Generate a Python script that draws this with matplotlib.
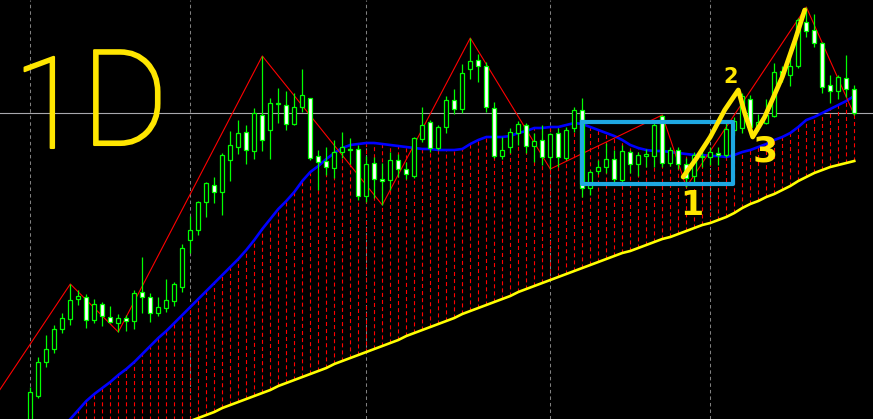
import matplotlib
matplotlib.use('Agg')
import matplotlib.pyplot as plt
import matplotlib.patheffects as pe
import numpy as np

# Daily bars, price (no price scale shown, arbitrary points)
opens = [60, 104, 138, 151, 171, 181, 201, 203, 180, 196,
         183, 177, 182, 179, 208, 203, 187, 192, 199, 213,
         260, 270, 298, 315, 308, 340, 353, 368, 349, 385,
         370, 396, 395, 376, 393, 402, 344, 339, 332, 348,
         351, 351, 304, 337, 321, 320, 340, 331, 324, 361,
         378, 352, 373, 400, 391, 431, 440, 434, 392, 344,
         353, 367, 375, 354, 360, 343, 367, 342, 372, 390,
         312, 329, 333, 341, 320, 348, 336, 344, 344, 384,
         337, 350, 336, 324, 343, 343, 347, 345, 370, 372,
         401, 373, 377, 384, 429, 425, 434, 478, 470, 457,
         415, 409, 422, 411]
highs = [113, 143, 165, 175, 187, 216, 210, 206, 201, 198,
         194, 186, 185, 210, 243, 207, 203, 221, 218, 256,
         284, 299, 318, 323, 347, 369, 380, 375, 392, 444,
         402, 412, 409, 407, 431, 402, 350, 353, 360, 368,
         362, 355, 344, 343, 337, 348, 346, 338, 363, 393,
         380, 375, 404, 411, 436, 462, 446, 438, 398, 363,
         372, 379, 377, 367, 375, 367, 372, 373, 393, 402,
         330, 340, 357, 350, 355, 350, 348, 351, 380, 385,
         353, 353, 342, 348, 350, 353, 353, 377, 383, 407,
         405, 386, 401, 437, 434, 452, 482, 493, 486, 458,
         425, 425, 445, 415]
lows = [55, 102, 133, 147, 167, 175, 195, 172, 177, 174,
        177, 168, 169, 171, 187, 178, 184, 188, 194, 208,
        247, 265, 283, 297, 285, 319, 346, 336, 341, 349,
        341, 377, 370, 375, 388, 340, 310, 325, 322, 342,
        336, 300, 298, 302, 295, 310, 323, 321, 322, 358,
        348, 350, 367, 386, 387, 421, 418, 388, 342, 341,
        347, 355, 347, 338, 335, 331, 333, 340, 368, 303,
        305, 326, 327, 318, 318, 327, 324, 333, 333, 333,
        334, 331, 313, 318, 333, 335, 335, 343, 365, 367,
        371, 369, 376, 383, 418, 414, 432, 463, 453, 407,
        397, 401, 403, 385]
closes = [108, 138, 151, 171, 182, 200, 204, 180, 196, 184,
          178, 182, 179, 207, 203, 187, 193, 200, 216, 252,
          270, 298, 317, 308, 345, 355, 367, 350, 387, 360,
          397, 397, 376, 393, 405, 342, 338, 333, 348, 353,
          350, 304, 336, 321, 319, 340, 331, 326, 362, 375,
          352, 373, 400, 391, 427, 439, 434, 393, 344, 350,
          368, 376, 354, 359, 343, 366, 343, 370, 390, 312,
          328, 333, 341, 321, 349, 336, 345, 346, 375, 337,
          350, 336, 322, 345, 344, 348, 345, 371, 379, 404,
          373, 378, 385, 428, 425, 434, 480, 469, 457, 413,
          409, 423, 411, 387]

# blue (fast) and yellow (slow) moving averages
ma_fast = [35, 44, 53, 63, 72, 81, 90, 99, 106, 112,
           118, 125, 131, 138, 146, 154, 162, 169, 177, 185,
           193, 201, 209, 217, 225, 233, 241, 250, 260, 271,
           281, 291, 299, 308, 319, 328, 334, 341, 347, 352,
           355, 356, 357, 357, 356, 355, 354, 353, 352, 351,
           351, 350, 350, 350, 351, 356, 360, 363, 363, 363,
           364, 367, 369, 372, 372, 373, 373, 375, 377, 376,
           373, 370, 367, 364, 360, 355, 352, 350, 349, 349,
           348, 347, 346, 345, 345, 344, 344, 343, 345, 348,
           350, 353, 356, 360, 363, 367, 373, 380, 383, 387,
           391, 395, 399, 404]
ma_slow = [16, 19, 22, 25, 28, 31, 34, 38, 41, 44,
           47, 51, 54, 57, 60, 63, 66, 70, 73, 76,
           79, 82, 85, 88, 92, 95, 98, 101, 104, 107,
           110, 114, 117, 120, 123, 126, 129, 132, 136, 139,
           142, 145, 148, 151, 154, 157, 160, 164, 167, 170,
           173, 176, 179, 182, 186, 189, 192, 195, 198, 201,
           204, 208, 211, 214, 217, 220, 223, 226, 229, 232,
           235, 238, 241, 244, 247, 249, 252, 255, 258, 261,
           263, 266, 269, 272, 275, 277, 280, 283, 287, 292,
           296, 299, 303, 306, 310, 314, 319, 323, 327, 330,
           333, 335, 337, 339]

# zigzag pivots (bar index, price); first one lies left of the visible window
zz_idx = [-4, 5, 11, 29, 44, 55, 65, 79, 82, 97, 103]
zz_val = [108, 216, 168, 444, 295, 462, 331, 385, 313, 493, 385]

# period separators
sep_idx = [0, 20, 42, 65, 85]

# hand drawn markup (bar index, price)
box_x = [68.96, 87.84, 87.84, 68.96, 68.96]
box_y = [378, 378, 316, 316, 378]
wave_x = [81.6, 83.3, 85.0, 86.8, 88.5, 89.3, 90.3, 91.8, 94.0, 95.6, 96.8]
wave_y = [323, 342, 363, 390, 410, 387, 363, 383, 423, 460, 490]
wave_labels = ['1', '2', '3']
wave_lab_x = [82.7, 87.6, 91.8]
wave_lab_y = [285, 417, 338]
wave_lab_size = [24, 15, 26]

GREEN = '#00ff00'
HAND = '#ffe600'

plt.rcParams['lines.scale_dashes'] = False

fig = plt.figure(figsize=(8.73, 4.19), dpi=100, facecolor='black')
ax = fig.add_axes([0, 0, 1, 1])
ax.set_facecolor('black')
ax.set_xlim(-3.79, 105.34)
ax.set_ylim(81, 500)
ax.axis('off')

x = np.arange(len(opens))
o = np.array(opens, float)
c = np.array(closes, float)

# separators and bid line
ax.vlines(sep_idx, 81, 500, color='#808080', lw=0.75, linestyles=(0, (2.5, 2.2)), zorder=0)
ax.axhline(closes[-1], color='#a8a8ad', lw=0.8, zorder=0.5)

# histogram between the two averages
ax.vlines(x, ma_slow, ma_fast, color='#ff0000', lw=0.8, linestyles=(0, (2.9, 2.2)), zorder=1)
ax.plot(x, ma_slow, color='#ffff00', lw=1.9, zorder=2)
ax.plot(x, ma_fast, color='#0000ff', lw=1.9, zorder=2)
ax.plot(zz_idx, zz_val, color='#ff0000', lw=0.8, zorder=3)

# candles
ax.vlines(x, lows, highs, color=GREEN, lw=0.9, zorder=4)
body_lo = np.minimum(o, c)
body_h = np.maximum(np.abs(c - o), 0.3)
ax.bar(x, body_h, bottom=body_lo, width=0.5,
       color=np.where(c >= o, 'black', 'white'),
       edgecolor=GREEN, linewidth=0.9, zorder=5)

# hand drawn markup
ax.plot(box_x, box_y, color='#1ea8e2', lw=3, solid_joinstyle='round', zorder=6)
ax.plot(wave_x, wave_y, color=HAND, lw=3.4, solid_joinstyle='round',
        solid_capstyle='round', zorder=7)
thick = [pe.withStroke(linewidth=1.5, foreground=HAND)]
for t, tx, ty, fs in zip(wave_labels, wave_lab_x, wave_lab_y, wave_lab_size):
    ax.text(tx, ty, t, color=HAND, fontsize=fs, fontweight='bold',
            ha='center', va='baseline', zorder=8)

ax.text(2.2, 352, '1', color=HAND, fontsize=92, family=['Roboto', 'DejaVu Sans'],
        fontweight=100, ha='center', va='baseline', zorder=8, path_effects=thick)
ax.text(11.8, 355, 'D', color=HAND, fontsize=96, family=['Roboto', 'DejaVu Sans'],
        fontweight=100, ha='center', va='baseline', zorder=8, path_effects=thick)

fig.savefig('out.png', dpi=100, facecolor='black')
